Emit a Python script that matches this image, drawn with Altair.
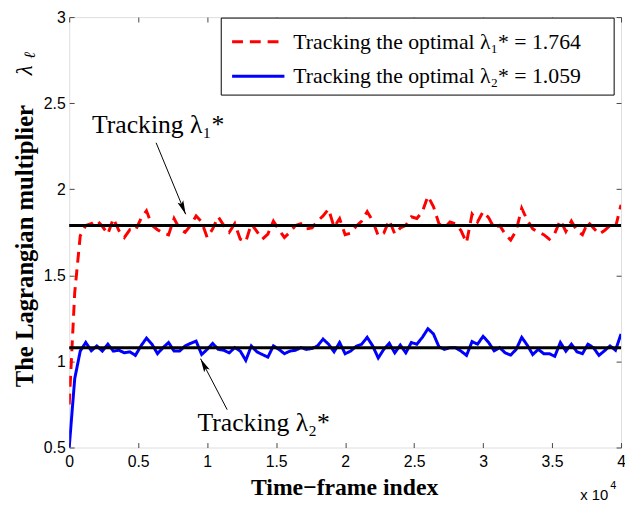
import math
import altair as alt
import pandas as pd

# ---------------- data ----------------
FRAME_STEP = 400  # time-frame spacing between the plotted samples

red_track = [
    0.75, 1.40, 1.73, 1.79, 1.80, 1.82, 1.785, 1.74, 1.83, 1.76,
    1.72, 1.765, 1.76, 1.83, 1.875, 1.79, 1.765, 1.745, 1.735, 1.83,
    1.77, 1.75, 1.79, 1.845, 1.81, 1.72, 1.77, 1.84, 1.79, 1.75,
    1.80, 1.71, 1.695, 1.80, 1.755, 1.71, 1.74, 1.815, 1.765, 1.72,
    1.75, 1.79, 1.80, 1.77, 1.775, 1.815, 1.845, 1.885, 1.78, 1.83,
    1.736, 1.745, 1.785, 1.815, 1.87, 1.815, 1.73, 1.745, 1.82, 1.74,
    1.775, 1.79, 1.84, 1.83, 1.87, 1.96, 1.90, 1.80, 1.775, 1.81,
    1.80, 1.76, 1.69, 1.855, 1.81, 1.87, 1.835, 1.775, 1.79, 1.74,
    1.705, 1.76, 1.89, 1.82, 1.77, 1.75, 1.736, 1.71, 1.745, 1.82,
    1.755, 1.815, 1.76, 1.736, 1.81, 1.775, 1.74, 1.76, 1.79, 1.78,
    1.91,
]

blue_track = [
    0.50, 0.90, 1.06, 1.11, 1.062, 1.09, 1.06, 1.10, 1.06, 1.065,
    1.05, 1.056, 1.035, 1.09, 1.135, 1.10, 1.045, 1.08, 1.11, 1.06,
    1.06, 1.09, 1.105, 1.118, 1.04, 1.07, 1.105, 1.07, 1.065, 1.05,
    1.08, 1.06, 1.006, 1.09, 1.056, 1.04, 1.025, 1.09, 1.07, 1.045,
    1.06, 1.065, 1.08, 1.07, 1.075, 1.09, 1.13, 1.10, 1.056, 1.11,
    1.045, 1.06, 1.088, 1.10, 1.14, 1.09, 1.02, 1.07, 1.105, 1.05,
    1.095, 1.05, 1.11, 1.10, 1.14, 1.19, 1.16, 1.085, 1.07, 1.08,
    1.08, 1.06, 1.035, 1.115, 1.10, 1.146, 1.11, 1.062, 1.08, 1.05,
    1.037, 1.07, 1.14, 1.095, 1.04, 1.07, 1.045, 1.045, 1.03, 1.11,
    1.06, 1.10, 1.056, 1.045, 1.10, 1.08, 1.035, 1.062, 1.09, 1.065,
    1.16,
]

frames = [i * FRAME_STEP for i in range(len(red_track))]

optimal_levels = [1.79, 1.08]
series_names = [
    "Tracking the optimal λ₁* = 1.764",
    "Tracking the optimal λ₂* = 1.059",
]
series_colors = ["#ff0000", "#0000ff"]

x_ticks = [0, 5000, 10000, 15000, 20000, 25000, 30000, 35000, 40000]
y_ticks = [0.5, 1, 1.5, 2, 2.5, 3]

# annotations (data units)
ann_text = ["Tracking λ₁*", "Tracking λ₂*"]
ann_text_frame = [1650, 9300]
ann_text_lambda = [2.37, 0.64]
arrow_tail_frame = [6300, 11450]
arrow_tail_lambda = [2.27, 0.72]
arrow_head_frame = [8440, 9520]
arrow_head_lambda = [1.855, 1.016]

# ---------------- layout ----------------
LEFT, TOP, BOTTOM = 70, 14, 450          # page pixels of the plot frame
W, H = 559, BOTTOM - TOP
X_DOM = [0, 40000]
Y_DOM = [0.5, 3]
SERIF = "Liberation Serif"
SANS = "Liberation Sans"


def px(x):
    return x - LEFT


def py(y):
    return y - TOP


xs = alt.Scale(domain=X_DOM, nice=False, zero=False)
ys = alt.Scale(domain=Y_DOM, nice=False, zero=False)

track_df = pd.DataFrame({
    "frame": frames + frames,
    "lam": red_track + blue_track,
    "series": [series_names[0]] * len(red_track) + [series_names[1]] * len(blue_track),
})
level_df = pd.DataFrame({"level": optimal_levels})

angles = []
for tf, tl, hf, hl in zip(arrow_tail_frame, arrow_tail_lambda, arrow_head_frame, arrow_head_lambda):
    dx = (hf - tf) * W / (X_DOM[1] - X_DOM[0])
    dy = -(hl - tl) * H / (Y_DOM[1] - Y_DOM[0])
    angles.append(math.degrees(math.atan2(dx, -dy)) % 360)

arrow_df = pd.DataFrame({
    "tf": arrow_tail_frame, "tl": arrow_tail_lambda,
    "hf": arrow_head_frame, "hl": arrow_head_lambda,
    "angle": angles,
})
ann_df = pd.DataFrame({"f": ann_text_frame, "l": ann_text_lambda, "t": ann_text})

axis_common = dict(
    grid=False, domain=False, offset=-5, tickSize=5, tickColor="#444",
    tickWidth=1, title=None, labelFlush=False,
)

lines = alt.Chart(track_df).mark_line(strokeWidth=3, clip=True).encode(
    x=alt.X("frame:Q", scale=xs, axis=alt.Axis(
        orient="bottom", values=x_ticks,
        labelExpr="format(datum.value / 10000, '~g')",
        labelFont=SANS, labelFontSize=16, labelColor="black", labelPadding=6,
        **axis_common)),
    y=alt.Y("lam:Q", scale=ys, axis=alt.Axis(
        orient="left", values=y_ticks, format="~g",
        labelFont=SANS, labelFontSize=16, labelColor="black", labelPadding=4,
        **axis_common)),
    color=alt.Color("series:N", scale=alt.Scale(domain=series_names, range=series_colors), legend=None),
    strokeDash=alt.StrokeDash("series:N", scale=alt.Scale(domain=series_names, range=[[11, 7], [1, 0]]), legend=None),
)

frame_axes = alt.Chart(track_df).mark_point(opacity=0).encode(
    x=alt.X("frame:Q", scale=xs, axis=alt.Axis(orient="top", values=x_ticks, labels=False, **axis_common)),
    y=alt.Y("lam:Q", scale=ys, axis=alt.Axis(orient="right", values=y_ticks, labels=False, **axis_common)),
)

levels = alt.Chart(level_df).mark_rule(color="black", strokeWidth=3).encode(
    y=alt.Y("level:Q", scale=ys, axis=None),
)

arrow_lines = alt.Chart(arrow_df).mark_rule(color="black", strokeWidth=1).encode(
    x=alt.X("tf:Q", scale=xs, axis=None), y=alt.Y("tl:Q", scale=ys, axis=None),
    x2="hf:Q", y2="hl:Q",
)

arrow_heads = alt.Chart(arrow_df).mark_point(
    shape="M0,0 L-0.45,2 L0,1.6 L0.45,2 Z", filled=True, size=196,
    color="black", opacity=1,
).encode(
    x=alt.X("hf:Q", scale=xs, axis=None), y=alt.Y("hl:Q", scale=ys, axis=None),
    angle=alt.Angle("angle:Q", scale=None),
)

ann_texts = alt.Chart(ann_df).mark_text(
    align="left", baseline="middle", font=SERIF, fontSize=26, color="black",
).encode(
    x=alt.X("f:Q", scale=xs, axis=None), y=alt.Y("l:Q", scale=ys, axis=None), text="t:N",
)

# legend (drawn by hand, MATLAB style)
leg_df = pd.DataFrame({"name": series_names})
one = leg_df.head(1)
legend_box = alt.Chart(one).mark_rect(fill="white", stroke="black", strokeWidth=1).encode(
    x=alt.value(px(224)), x2=alt.value(px(622)), y=alt.value(py(15)), y2=alt.value(py(93)),
)
legend_red = alt.Chart(one).mark_rule(color=series_colors[0], strokeWidth=3, strokeDash=[11, 7]).encode(
    x=alt.value(px(235)), x2=alt.value(px(288)), y=alt.value(py(39)),
)
legend_blue = alt.Chart(one).mark_rule(color=series_colors[1], strokeWidth=3).encode(
    x=alt.value(px(235)), x2=alt.value(px(288)), y=alt.value(py(74)),
)
legend_t1 = alt.Chart(one).mark_text(
    align="left", baseline="middle", font=SERIF, fontSize=22, color="black", text=series_names[0],
).encode(x=alt.value(px(297)), y=alt.value(py(39)))
legend_t2 = alt.Chart(one).mark_text(
    align="left", baseline="middle", font=SERIF, fontSize=22, color="black", text=series_names[1],
).encode(x=alt.value(px(297)), y=alt.value(py(74)))


# axis titles
def label(txt, x, y, **kw):
    return alt.Chart(one).mark_text(text=txt, color="black", **kw).encode(
        x=alt.value(px(x)), y=alt.value(py(y)))


y_title = label("The Lagrangian multiplier", 25, 246, angle=270, font=SERIF, fontWeight="bold",
                fontSize=25, align="center", baseline="middle")
y_lambda = label("λ", 25, 68, angle=270, font=SERIF, fontStyle="italic", fontSize=23,
                 align="center", baseline="middle")
y_ell = label("ℓ", 30, 53, angle=270, font=SERIF, fontStyle="italic", fontSize=16,
              align="center", baseline="middle")
x_title = label("Time−frame index", 349, 491, font=SERIF, fontWeight="bold", fontSize=24,
                align="center", baseline="middle")
x_mult = label("x 10", 616, 498, font=SANS, fontSize=15, align="right", baseline="middle")
x_exp = label("4", 618, 489, font=SANS, fontSize=11, align="left", baseline="middle")

chart = alt.layer(
    lines, levels, arrow_lines, arrow_heads, ann_texts,
    legend_box, legend_red, legend_blue, legend_t1, legend_t2,
    frame_axes, y_title, y_lambda, y_ell, x_title, x_mult, x_exp,
).resolve_axis(
    x="independent", y="independent"
).properties(
    width=W, height=H,
    autosize=alt.AutoSizeParams(type="none"),
    padding={"left": LEFT - 8, "top": TOP - 8, "right": 4, "bottom": 513 - 8 - BOTTOM - 2},
).configure_view(
    stroke="black", strokeWidth=1,
).configure(background="white")

chart.save("out.html", embed_options={"renderer": "svg", "actions": False})
